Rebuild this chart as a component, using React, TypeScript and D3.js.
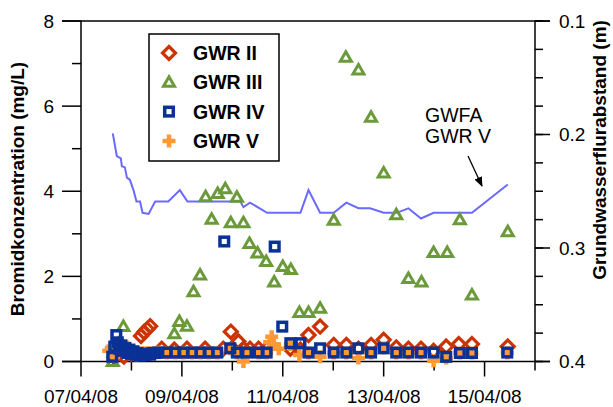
import React from "react";
import * as d3 from "d3";

// days since 07/04/08 00:00, values in mg/L
const gwr2Days = [0.66, 0.85, 1.0, 1.19, 1.25, 1.31, 1.37, 1.6, 1.85, 2.1, 2.46, 2.82, 2.97, 3.12, 3.22, 3.35, 3.52, 3.68, 4.15, 4.35, 4.51, 4.74, 5.01, 5.26, 5.5, 5.75, 6.0, 6.25, 6.49, 6.74, 6.99, 7.24, 7.49, 7.75, 8.46];
const gwr2Vals = [0.1, 0.12, 0.18, 0.6, 0.69, 0.76, 0.83, 0.3, 0.28, 0.3, 0.3, 0.3, 0.7, 0.47, 0.3, 0.3, 0.3, 0.3, 0.3, 0.28, 0.62, 0.82, 0.39, 0.39, 0.3, 0.39, 0.51, 0.33, 0.3, 0.3, 0.25, 0.35, 0.41, 0.41, 0.35];

const gwr3Days = [0.63, 0.84, 1.85, 1.95, 2.1, 2.23, 2.36, 2.47, 2.59, 2.71, 2.86, 2.97, 3.09, 3.22, 3.34, 3.5, 3.67, 3.83, 4.0, 4.16, 4.33, 4.51, 4.74, 5.01, 5.25, 5.5, 5.75, 6.0, 6.25, 6.49, 6.75, 6.99, 7.26, 7.51, 7.75, 8.46];
const gwr3Vals = [0.0, 0.82, 0.65, 0.94, 0.83, 1.64, 2.03, 3.87, 3.34, 3.95, 4.06, 3.26, 3.86, 3.26, 2.77, 2.55, 2.35, 1.87, 2.23, 2.16, 1.15, 1.15, 1.25, 3.32, 7.15, 6.85, 5.74, 4.43, 3.45, 1.95, 1.87, 2.56, 2.56, 3.33, 1.56, 3.05];

const gwr4Days = [0.62, 0.66, 0.7, 0.73, 0.76, 0.8, 0.84, 0.88, 0.92, 0.96, 1.0, 1.04, 1.08, 1.12, 1.17, 1.22, 1.27, 1.32, 1.37, 1.42, 1.47, 1.53, 1.7, 1.87, 2.03, 2.2, 2.37, 2.53, 2.7, 2.84, 2.96, 3.09, 3.29, 3.52, 3.68, 3.84, 3.99, 4.15, 4.35, 4.51, 4.74, 5.01, 5.26, 5.5, 5.75, 6.0, 6.25, 6.49, 6.74, 6.99, 7.24, 7.51, 7.75, 8.45];
const gwr4Vals = [0.11, 0.35, 0.62, 0.45, 0.3, 0.38, 0.25, 0.32, 0.2, 0.28, 0.18, 0.24, 0.16, 0.2, 0.14, 0.18, 0.15, 0.18, 0.16, 0.2, 0.2, 0.21, 0.21, 0.21, 0.21, 0.21, 0.21, 0.21, 0.21, 2.82, 0.31, 0.21, 0.21, 0.21, 0.21, 2.7, 0.82, 0.43, 0.43, 0.21, 0.31, 0.21, 0.21, 0.31, 0.21, 0.31, 0.21, 0.21, 0.21, 0.21, 0.11, 0.2, 0.2, 0.21];

const gwr5Days = [0.55, 0.6, 0.64, 0.68, 0.72, 0.76, 0.8, 0.85, 0.9, 0.95, 1.0, 1.05, 1.1, 1.15, 1.2, 1.25, 1.3, 1.35, 1.4, 1.45, 1.53, 1.7, 1.87, 2.03, 2.2, 2.37, 2.53, 2.7, 2.96, 3.09, 3.22, 3.29, 3.52, 3.68, 3.74, 3.78, 3.82, 3.92, 4.15, 4.33, 4.51, 4.74, 5.01, 5.26, 5.5, 5.75, 6.0, 6.25, 6.49, 6.74, 6.99, 7.24, 7.51, 7.75, 8.45];
const gwr5Vals = [0.25, 0.32, 0.12, 0.4, 0.2, 0.45, 0.3, 0.25, 0.35, 0.2, 0.25, 0.2, 0.15, 0.2, 0.2, 0.2, 0.2, 0.2, 0.2, 0.2, 0.22, 0.2, 0.2, 0.2, 0.2, 0.2, 0.2, 0.2, 0.3, 0.2, 0.0, 0.2, 0.2, 0.2, 0.45, 0.58, 0.4, 0.3, 0.4, 0.15, 0.2, 0.11, 0.2, 0.2, 0.08, 0.2, 0.32, 0.2, 0.2, 0.2, 0.02, 0.08, 0.2, 0.2, 0.2];

// Grundwasserflurabstand GWR V (m)
const gwfaDays = [0.63, 0.71, 0.79, 0.81, 0.87, 0.91, 0.97, 1.04, 1.1, 1.17, 1.22, 1.34, 1.47, 1.73, 1.96, 2.11, 3.16, 3.22, 3.35, 3.69, 4.35, 4.51, 4.74, 5.01, 5.26, 5.5, 5.73, 6.0, 6.26, 6.49, 6.74, 6.99, 7.75, 8.46];
const gwfaVals = [0.199, 0.219, 0.221, 0.228, 0.229, 0.238, 0.24, 0.249, 0.259, 0.259, 0.269, 0.27, 0.259, 0.259, 0.249, 0.259, 0.259, 0.264, 0.26, 0.269, 0.269, 0.249, 0.269, 0.269, 0.26, 0.265, 0.265, 0.269, 0.269, 0.265, 0.274, 0.269, 0.269, 0.244];

const leftTicks = [0, 2, 4, 6, 8];
const rightTicks = [0.1, 0.2, 0.3, 0.4];
const legendLabels = ["GWR II", "GWR III", "GWR IV", "GWR V"];

const DAY = 86400000;
const BASE = Date.UTC(2008, 3, 7);
const toDate = (d: number) => new Date(BASE + d * DAY);

const RED = "#cc3300";
const GREEN = "#6b9a3a";
const BLUE = "#0a3296";
const ORANGE = "#ff9933";
const LINE = "#6a6aff";
const FONT = "'Liberation Sans', Arial, Helvetica, sans-serif";

const W = 613, H = 407;

function Diamond({ x, y }: { x: number; y: number }) {
  const s = 6.5;
  return <path d={`M${x},${y - s}L${x + s},${y}L${x},${y + s}L${x - s},${y}Z`} fill="none" stroke={RED} strokeWidth={3.2} />;
}
function Tri({ x, y }: { x: number; y: number }) {
  return <path d={`M${x - 5.5},${y + 4}L${x + 5.5},${y + 4}L${x},${y - 5.5}Z`} fill="none" stroke={GREEN} strokeWidth={3} />;
}
function Sq({ x, y }: { x: number; y: number }) {
  const s = 4.3;
  return <rect x={x - s} y={y - s} width={2 * s} height={2 * s} fill="none" stroke={BLUE} strokeWidth={3.5} />;
}
function Plus({ x, y }: { x: number; y: number }) {
  const s = 6.5;
  return <path d={`M${x - s},${y}H${x + s}M${x},${y - s}V${y + s}`} stroke={ORANGE} strokeWidth={4.5} fill="none" />;
}

export default function App() {
  const x = d3.scaleUtc().domain([toDate(0), toDate(9)]).range([81, 535]);
  const yL = d3.scaleLinear().domain([0, 8]).range([361.5, 21]);
  const yR = d3.scaleLinear().domain([0.1, 0.4]).range([21, 361.5]);
  const fmt = d3.utcFormat("%d/%m/%y");

  const dayTicks = d3.utcDay.range(toDate(0), toDate(9.01));
  const leftMinor = d3.range(1, 8, 2);
  const rightMinor = d3.range(0.1, 0.4001, 0.025);

  const line = d3
    .line<number>()
    .x((d) => x(toDate(gwfaDays[d])))
    .y((d) => yR(gwfaVals[d]));

  const xl = x.range()[0], xr = x.range()[1];
  const yb = yL(0), yt = yL(8);

  return (
    <svg width={W} height={H} style={{ position: "fixed", left: 0, top: 0, background: "#fff" }} fontFamily={FONT}>
      <defs>
        <marker id="ah" markerWidth="10" markerHeight="8" refX="9" refY="4" orient="auto" markerUnits="userSpaceOnUse">
          <path d="M0,0L10,4L0,8Z" fill="#000" />
        </marker>
      </defs>
      {/* frame */}
      <g stroke="#000" strokeWidth={1.5} fill="none">
        <line x1={62} x2={550} y1={yt} y2={yt} />
        <line x1={62} x2={550} y1={yb} y2={yb} />
        <line x1={xl} x2={xl} y1={yt} y2={yb} />
        <line x1={xr} x2={xr} y1={yt} y2={yb} />
        {leftTicks.map((t) => (
          <line key={"lt" + t} x1={62} x2={xl} y1={yL(t)} y2={yL(t)} />
        ))}
        {leftMinor.map((t) => (
          <line key={"lm" + t} x1={72} x2={xl} y1={yL(t)} y2={yL(t)} />
        ))}
        {rightTicks.map((t) => (
          <line key={"rt" + t} x1={xr} x2={550} y1={yR(t)} y2={yR(t)} />
        ))}
        {rightMinor.map((t, i) => (
          <line key={"rm" + i} x1={xr} x2={543} y1={yR(t)} y2={yR(t)} />
        ))}
        {dayTicks.map((d, i) => (
          <line key={"xt" + i} x1={x(d)} x2={x(d)} y1={yb} y2={yb + (i % 2 === 0 ? 15 : 9)} />
        ))}
      </g>
      {/* tick labels */}
      <g fontSize={19} fill="#000">
        {leftTicks.map((t) => (
          <text key={"ll" + t} x={54} y={yL(t)} dy="0.35em" textAnchor="end">{t}</text>
        ))}
        {rightTicks.map((t) => (
          <text key={"rl" + t} x={559} y={yR(t)} dy="0.35em" textAnchor="start">{t.toFixed(1)}</text>
        ))}
        {dayTicks.filter((_, i) => i % 2 === 0 && i < 9).map((d, i) => (
          <text key={"xl" + i} x={x(d)} y={403} textAnchor="middle">{fmt(d)}</text>
        ))}
      </g>
      {/* axis titles */}
      <text transform={`translate(24,189) rotate(-90)`} textAnchor="middle" fontWeight="bold" fontSize={19}>Bromidkonzentration (mg/L)</text>
      <text transform={`translate(606,150) rotate(-90)`} textAnchor="middle" fontWeight="bold" fontSize={19}>Grundwasserflurabstand (m)</text>

      {/* GWFA line */}
      <path d={line(d3.range(gwfaDays.length)) || ""} fill="none" stroke={LINE} strokeWidth={2} />

      {/* scatter */}
      <g>
        {gwr2Days.map((d, i) => <Diamond key={"a" + i} x={x(toDate(d))} y={yL(gwr2Vals[i])} />)}
        {gwr3Days.map((d, i) => <Tri key={"b" + i} x={x(toDate(d))} y={yL(gwr3Vals[i])} />)}
        {gwr5Days.map((d, i) => <Plus key={"c" + i} x={x(toDate(d))} y={yL(gwr5Vals[i])} />)}
        {gwr4Days.map((d, i) => <Sq key={"d" + i} x={x(toDate(d))} y={yL(gwr4Vals[i])} />)}
      </g>

      {/* annotation */}
      <g fontSize={19.5} fill="#000">
        <text x={425} y={122}>GWFA</text>
        <text x={425} y={143}>GWR V</text>
      </g>
      <line x1={468} y1={156} x2={482} y2={186} stroke="#000" strokeWidth={1.3} markerEnd="url(#ah)" />

      {/* legend */}
      <rect x={149} y={34} width={130} height={127} fill="#fff" stroke="#000" strokeWidth={1.5} />
      {legendLabels.map((lab, i) => {
        const cy = 53 + i * 29.3;
        const cx = 169;
        return (
          <g key={lab}>
            {i === 0 && <Diamond x={cx} y={cy} />}
            {i === 1 && <Tri x={cx} y={cy} />}
            {i === 2 && <Sq x={cx} y={cy} />}
            {i === 3 && <Plus x={cx} y={cy} />}
            <text x={193} y={cy} dy="0.36em" fontWeight="bold" fontSize={19.5}>{lab}</text>
          </g>
        );
      })}
    </svg>
  );
}
